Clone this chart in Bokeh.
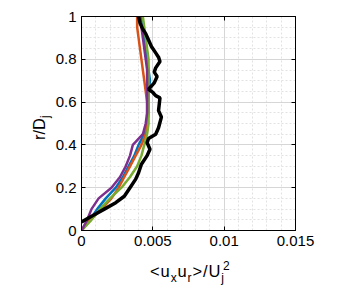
from bokeh.plotting import figure
from bokeh.models import Range1d, FixedTicker, LinearAxis, Div
from bokeh.layouts import row, column
from bokeh.embed import file_html
from bokeh.resources import INLINE

# ---- data ----
r_grid = [0.0, 0.05, 0.1, 0.15, 0.2, 0.25, 0.3, 0.35, 0.4, 0.45, 0.5,
          0.55, 0.6, 0.65, 0.7, 0.75, 0.8, 0.85, 0.9, 0.95, 1.0]
uxur_blue = [0.0, 0.0006, 0.0011, 0.0017, 0.0024, 0.0029, 0.0033, 0.0037, 0.0040, 0.0044, 0.0046,
             0.0047, 0.0047, 0.0047, 0.0048, 0.0047, 0.0046, 0.0045, 0.0044, 0.0043, 0.0042]
uxur_orange = [0.0, 0.0006, 0.0014, 0.0021, 0.0026, 0.0030, 0.0034, 0.0038, 0.0042, 0.0045, 0.0046,
               0.0046, 0.0046, 0.0045, 0.0044, 0.0043, 0.0042, 0.0041, 0.0040, 0.0039, 0.0039]
uxur_green = [0.0, 0.0007, 0.0013, 0.0020, 0.0028, 0.0034, 0.0039, 0.0042, 0.0044, 0.0046, 0.0047,
              0.0047, 0.0047, 0.0047, 0.0047, 0.0047, 0.0047, 0.0046, 0.0045, 0.0044, 0.0043]
uxur_purple = [0.0, 0.0004, 0.0007, 0.0012, 0.0021, 0.0027, 0.0031, 0.0034, 0.0036, 0.0043, 0.0045,
               0.0046, 0.0046, 0.0046, 0.0046, 0.0046, 0.0045, 0.0044, 0.0043, 0.0042, 0.0041]
black_x = [0.0000, 0.0008, 0.0016, 0.0024, 0.0030, 0.0034, 0.0038, 0.0040, 0.0042, 0.0046, 0.0048,
           0.0046, 0.0047, 0.0052, 0.0054, 0.0056, 0.0054, 0.0055, 0.0052, 0.0050, 0.0047, 0.0051,
           0.0053, 0.0051, 0.0052, 0.0055, 0.0054, 0.0052, 0.0049, 0.0047, 0.0045, 0.0043, 0.0041, 0.0040]
black_r = [0.04, 0.07, 0.10, 0.13, 0.16, 0.20, 0.24, 0.27, 0.31, 0.35, 0.38,
           0.41, 0.43, 0.45, 0.48, 0.53, 0.56, 0.62, 0.63, 0.645, 0.66, 0.69,
           0.72, 0.74, 0.76, 0.79, 0.81, 0.83, 0.86, 0.89, 0.92, 0.94, 0.97, 1.0]

x_ticks = [0, 0.005, 0.01, 0.015]
x_tick_labels = ["0", "0.005", "0.01", "0.015"]
y_ticks = [0, 0.2, 0.4, 0.6, 0.8, 1.0]
y_tick_labels = ["0", "0.2", "0.4", "0.6", "0.8", "1"]
x_minor = [i * 0.001 for i in range(16)]
y_minor = [i * 0.05 for i in range(21)]

FONT = "Liberation Sans"

# layout geometry (page pixels)
YLAB_W = 52            # width of the y-label strip
FL, FR, FT, FB = 79, 295, 16, 230   # frame edges on the page
FIG_W = 345 - YLAB_W
FIG_H = 254
XLAB_H = 31

p = figure(width=FIG_W, height=FIG_H, x_range=Range1d(0, 0.015), y_range=Range1d(0, 1),
           output_backend="svg", toolbar_location=None,
           min_border_left=FL - YLAB_W, min_border_right=YLAB_W + FIG_W - FR,
           min_border_top=FT, min_border_bottom=FIG_H - FB)
p.background_fill_color = "white"
p.border_fill_color = "white"
p.outline_line_color = "black"
p.outline_line_width = 1

xt = FixedTicker(ticks=x_ticks, minor_ticks=x_minor)
yt = FixedTicker(ticks=y_ticks, minor_ticks=y_minor)

for ax, tk, labs in ((p.xaxis[0], xt, x_tick_labels), (p.yaxis[0], yt, y_tick_labels)):
    ax.ticker = tk
    ax.major_label_overrides = {t: l for t, l in zip(tk.ticks, labs)}
    ax.major_tick_in = 4
    ax.major_tick_out = 0
    ax.minor_tick_in = 0
    ax.minor_tick_out = 0
    ax.axis_line_color = "black"
    ax.major_tick_line_color = "black"
    ax.major_label_text_font = FONT
    ax.major_label_text_font_size = "15px"
    ax.major_label_text_color = "black"
    ax.major_label_standoff = 5

for loc, tk in (("above", xt), ("right", yt)):
    ax = LinearAxis(ticker=tk, major_label_text_font_size="0px", major_label_standoff=0,
                    major_tick_in=4, major_tick_out=0, minor_tick_in=0, minor_tick_out=0,
                    major_tick_line_color="black", axis_line_color="black")
    ax.major_label_overrides = {t: "" for t in tk.ticks}
    p.add_layout(ax, loc)

for g in (p.xgrid[0], p.ygrid[0]):
    g.grid_line_color = "#d6d6d6"
    g.grid_line_width = 1
    g.minor_grid_line_color = "#e2e2e2"
    g.minor_grid_line_dash = "2 2"
    g.minor_grid_line_width = 1
p.xgrid[0].ticker = xt
p.ygrid[0].ticker = yt

p.line(uxur_blue, r_grid, line_color="#0072BD", line_width=2.5)
p.line(uxur_orange, r_grid, line_color="#D95319", line_width=2.5)
p.line(uxur_green, r_grid, line_color="#77AC30", line_width=2.5)
p.line(uxur_purple, r_grid, line_color="#7E2F8E", line_width=2.5)
p.line(black_x, black_r, line_color="black", line_width=3.5)

# ---- axis labels as HTML text with sub/superscripts ----
SUB = "position:relative; font-size:12px; top:5px;"
SUP = "position:relative; font-size:12px; top:-7px; margin-left:-2px;"
xlabel_html = (
    f'<div style="font-family:\'{FONT}\'; font-size:16.5px; line-height:20px; color:black; '
    f'white-space:nowrap; padding-top:7px; padding-left:{150 - YLAB_W}px; letter-spacing:0.9px;">'
    f'&lt;u<span style="{SUB}">x</span>u<span style="{SUB}">r</span>&gt;/U'
    f'<span style="{SUB}">j</span><span style="{SUP}">2</span></div>'
)
ylabel_html = (
    f'<div style="display:inline-block; white-space:nowrap; transform-origin:0 0; '
    f'transform:translate(30px, 140px) rotate(-90deg); font-family:\'{FONT}\'; '
    f'font-size:16.5px; line-height:19px; color:black;">'
    f'r/D<span style="position:relative; font-size:12px; top:4px;">j</span></div>'
)

xdiv = Div(text=xlabel_html, width=FIG_W, height=XLAB_H, margin=0)
ydiv = Div(text=ylabel_html, width=YLAB_W, height=FIG_H, margin=0)

layout = row(ydiv, column(p, xdiv, spacing=0), spacing=0)

open("out.html", "w").write(file_html(layout, INLINE))
